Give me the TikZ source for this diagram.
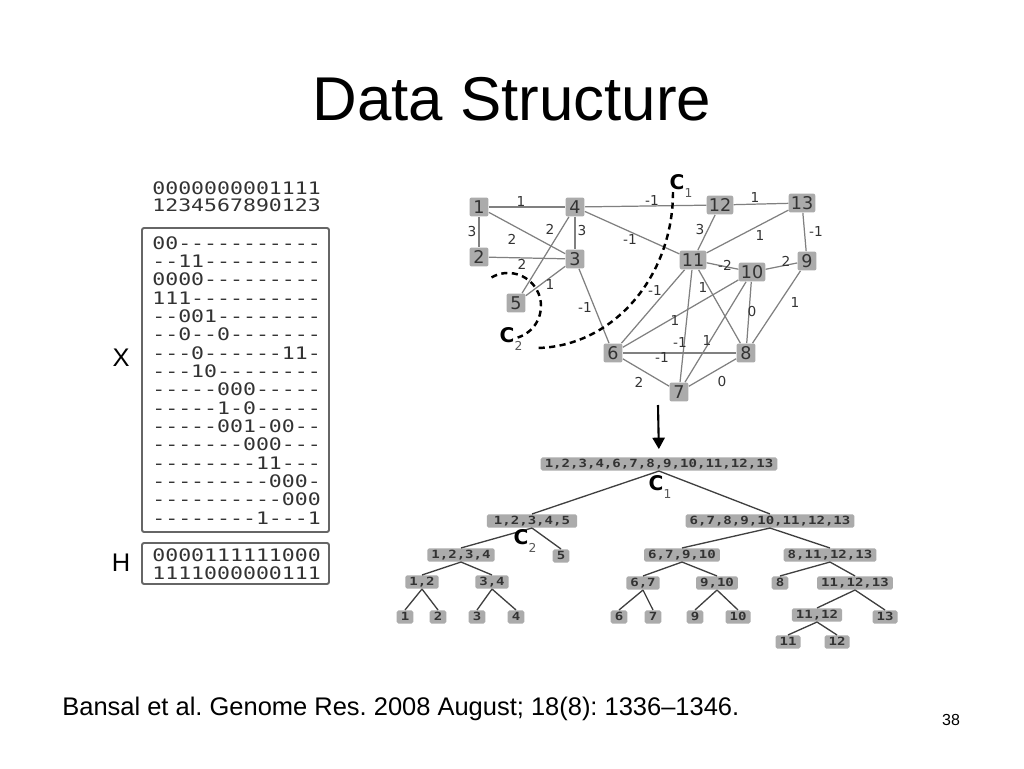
\documentclass[tikz,border=0pt]{standalone}
\usepackage{fontspec}
\setmainfont{Liberation Sans}
\newfontfamily\monofont[FakeStretch=1.25]{DejaVu Sans Mono}
\newfontfamily\dejavu{DejaVu Sans}
\usetikzlibrary{arrows.meta}
\definecolor{boxgray}{HTML}{ABABAB}
\definecolor{edgegray}{HTML}{808080}
\definecolor{textgray}{HTML}{333333}
\newcommand\cutname[1]{C\raisebox{-0.4em}{\fontsize{7}{7}\selectfont\mdseries\color{black!65}#1}}
\frenchspacing

\begin{document}
\begin{tikzpicture}[x=0.02cm, y=0.02cm]
\tikzstyle{every node}+=[inner sep=0pt]
\tikzstyle{gnode}=[fill=boxgray, rounded corners=1.2pt, minimum width=10.8pt, minimum height=10.8pt, inner xsep=1.2pt, text height=7.3pt, text depth=0pt, font=\dejavu\fontsize{10}{10}\selectfont, text=textgray]
\tikzstyle{elab}=[font=\dejavu\fontsize{7.8}{8}\selectfont, text=textgray]
\tikzstyle{gedge}=[edgegray, line width=0.7pt]
\tikzstyle{tnode}=[fill=boxgray, rounded corners=1pt, minimum height=7.6pt, inner xsep=2.3pt, text height=4.7pt, text depth=0.6pt, font=\monofont\bfseries\fontsize{6.4}{6.4}\selectfont, text=textgray]
\tikzstyle{tedge}=[black!75, line width=0.75pt]
\tikzstyle{row}=[anchor=west, font=\monofont\fontsize{9.8}{9.8}\selectfont, text=black!80]
\tikzstyle{boxline}=[black!60, line width=1.1pt, rounded corners=1.2pt]
\tikzstyle{cut}=[black, line width=1.4pt, dash pattern=on 3.5pt off 2.5pt]
\tikzstyle{cutlab}=[font=\dejavu\bfseries\fontsize{11.5}{11.5}\selectfont]
\useasboundingbox (0,0) rectangle (1024,-768);
\fill[white] (0,0) rectangle (1024,-768);

\node[anchor=base, font=\fontsize{35.2}{36}\selectfont] (title) at (512,-120) {Data Structure};

% matrix X and H
\node[row] (hd1) at (152,-188) {0000000001111};
\node[row] (hd2) at (152,-205) {1234567890123};
\draw[boxline] (142,-228) rectangle (329,-532);
\foreach \r [count=\i from 0] in {00-----------,--11---------,0000---------,111----------,--001--------,--0--0-------,---0------11-,---10--------,-----000-----,-----1-0-----,-----001-00--,-------000---,--------11---,---------000-,----------000,--------1---1}
  \node[row] (x\i) at (152,{-243-18.33*\i}) {\r};
\node[font=\fontsize{14.5}{15}\selectfont] (xlab) at (121,-358) {X};
\draw[boxline] (142,-543) rectangle (329,-584);
\node[row] (h1) at (152,-555) {0000111111000};
\node[row] (h2) at (152,-573) {1111000000111};
\node[font=\fontsize{14.5}{15}\selectfont] (hlab) at (121,-563) {H};

% graph
\foreach \i/\x/\y in {1/479/207,2/479/257,3/575/259,4/575/207,5/516/303,6/613/353,7/679/392,8/746/353,9/807/261,10/752/272,11/693/260,12/720/205,13/802/203}
  \node[gnode] (n\i) at (\x,-\y) {\i};
\foreach \a/\b/\w/\x/\y [count=\k] in {1/4/1/521/201,1/2/3/472/232,1/3/2/512/239,2/3/2/522/264,4/5/2/550/229,4/3/3/582/231,3/5/1/550/284,3/6/-1/585/307,4/12/-1/652/200,4/11/-1/630/239,12/11/3/700/230,12/13/1/755/197,13/11/1/760/235,13/9/-1/816/231,11/10/-2/725/265,10/9/2/786/261,11/6/-1/655/290,10/6/1/675/320,11/7/-1/680/342,10/7/1/707/340,11/8/1/703/287,10/8/0/752/312,9/8/1/795/302,6/8/-1/662/357,6/7/2/639/382,7/8/0/722/382}
{
  \draw[gedge] (n\a) -- (n\b);
  \node[elab] (w\k) at (\x,-\y) {\w};
}
\draw[cut] (673,-192) arc[start angle=0, end angle=-90, x radius=138, y radius=156];
\draw[cut] (491.5,-277.4) arc[start angle=120, end angle=-73, radius=33];
\node[cutlab] (c1) at (681,-186) {\cutname{1}};
\node[cutlab] (c2) at (511,-339) {\cutname{2}};

% tree
\node[tnode] (t0) at (659,-464) {1,2,3,4,6,7,8,9,10,11,12,13};
\node[tnode, inner xsep=4pt] (t1) at (532,-521) {1,2,3,4,5};
\node[tnode] (t2) at (770,-521) {6,7,8,9,10,11,12,13};
\node[tnode] (t11) at (461,-555) {1,2,3,4};
\node[tnode] (t12) at (561,-556) {5};
\node[tnode] (t21) at (682,-555) {6,7,9,10};
\node[tnode] (t22) at (830,-555) {8,11,12,13};
\node[tnode] (t111) at (422,-582) {1,2};
\node[tnode] (t112) at (492,-582) {3,4};
\node[tnode] (t211) at (643,-583) {6,7};
\node[tnode] (t212) at (717,-583) {9,10};
\node[tnode] (t221) at (780,-583) {8};
\node[tnode] (t222) at (855,-583) {11,12,13};
\node[tnode] (l1) at (405,-617) {1};
\node[tnode] (l2) at (438,-617) {2};
\node[tnode] (l3) at (477,-617) {3};
\node[tnode] (l4) at (516,-617) {4};
\node[tnode] (l6) at (619,-617) {6};
\node[tnode] (l7) at (653,-617) {7};
\node[tnode] (l9) at (695,-617) {9};
\node[tnode] (l10) at (738,-617) {10};
\node[tnode] (t2221) at (817,-615) {11,12};
\node[tnode] (l13) at (885,-617) {13};
\node[tnode] (l11) at (788,-642) {11};
\node[tnode] (l12) at (837,-642) {12};
\foreach \p/\c in {t0/t1,t0/t2,t1/t11,t1/t12,t11/t111,t11/t112,t111/l1,t111/l2,t112/l3,t112/l4,t2/t21,t2/t22,t21/t211,t21/t212,t211/l6,t211/l7,t212/l9,t212/l10,t22/t221,t22/t222,t222/t2221,t222/l13,t2221/l11,t2221/l12}
  \draw[tedge] (\p.south) -- (\c.north);
\node[cutlab] (tc1) at (660,-487) {\cutname{1}};
\node[cutlab] (tc2) at (525,-541) {\cutname{2}};

\coordinate (arrtop) at (658,-405);
\draw[line width=1.2pt, -{Triangle[length=6.5pt,width=7pt]}, shorten >=4.5pt] (arrtop) -- (t0.north);

\node[anchor=base west, font=\fontsize{14.5}{15}\selectfont] (cite) at (62,-715) {Bansal et al. Genome Res. 2008 August; 18(8): 1336–1346.};
\node[anchor=base, font=\fontsize{9.1}{10}\selectfont] (page) at (951,-725) {38};
\end{tikzpicture}
\end{document}
